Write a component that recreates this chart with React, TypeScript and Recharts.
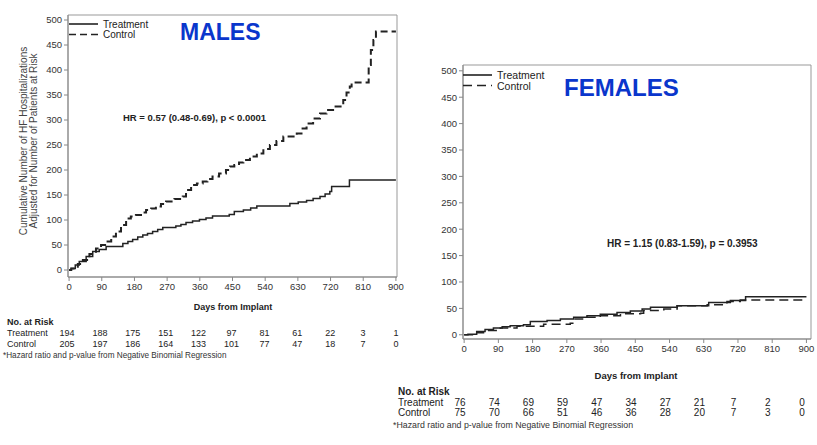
import React from 'react';
import { LineChart, Line, XAxis, YAxis, ReferenceArea } from 'recharts';

const FONT = '"Liberation Sans", Arial, Helvetica, sans-serif';
const INK = '#222';
const BLUE = '#0a36cc';

const dayTicks = [0, 90, 180, 270, 360, 450, 540, 630, 720, 810, 900];
const valTicks = [0, 50, 100, 150, 200, 250, 300, 350, 400, 450, 500];

// males
const maleTrtDays = [0, 6, 17, 28, 47, 65, 83, 102, 138, 148, 162, 175, 189, 203, 216, 230, 244, 258, 294, 308, 322, 340, 359, 377, 395, 441, 455, 480, 500, 517, 599, 608, 631, 654, 672, 691, 705, 718, 723, 771, 772, 900];
const maleTrtVals = [0, 3, 10, 17, 27, 37, 41, 47, 47, 53, 57, 61, 66, 70, 73, 77, 81, 85, 88, 91, 95, 98, 101, 104, 108, 111, 117, 120, 124, 128, 128, 133, 136, 139, 143, 147, 152, 157, 167, 167, 180, 180];
const maleCtlDays = [0, 6, 24, 38, 56, 74, 88, 102, 116, 129, 143, 157, 170, 184, 198, 212, 226, 239, 253, 267, 290, 313, 322, 336, 352, 368, 381, 395, 413, 432, 443, 455, 468, 480, 498, 517, 535, 553, 571, 590, 627, 640, 654, 672, 691, 709, 727, 755, 764, 773, 778, 819, 825, 831, 838, 845, 900];
const maleCtlVals = [0, 3, 12, 20, 32, 43, 50, 57, 67, 77, 90, 103, 107, 110, 115, 120, 123, 127, 132, 137, 142, 147, 160, 170, 173, 177, 182, 187, 193, 200, 207, 210, 215, 220, 227, 233, 242, 250, 258, 267, 273, 283, 293, 303, 313, 320, 327, 340, 355, 367, 375, 375, 410, 440, 460, 477, 477];

// females
const femTrtDays = [0, 10, 33, 55, 77, 100, 121, 156, 174, 218, 253, 288, 323, 358, 402, 437, 468, 490, 560, 621, 643, 700, 740, 900];
const femTrtVals = [0, 1, 6, 10, 13, 15, 17, 19, 25, 27, 30, 33, 36, 39, 42, 45, 49, 52, 55, 55, 61, 65, 72, 72];
const femCtlDays = [0, 25, 51, 95, 139, 209, 279, 292, 323, 358, 411, 464, 472, 525, 560, 612, 639, 691, 726, 893];
const femCtlVals = [0, 4, 8, 13, 16, 20, 22, 30, 33, 36, 40, 41, 46, 49, 55, 55, 57, 63, 66, 66];

// numbers at risk
const maleRiskTrt = [194, 188, 175, 151, 122, 97, 81, 61, 22, 3, 1];
const maleRiskCtl = [205, 197, 186, 164, 133, 101, 77, 47, 18, 7, 0];
const femRiskTrt = [76, 74, 69, 59, 47, 34, 27, 21, 7, 2, 0];
const femRiskCtl = [75, 70, 66, 51, 46, 36, 28, 20, 7, 3, 0];

const toPts = (days: number[], vals: number[]) => days.map((d, i) => ({ day: d, v: vals[i] }));

type PanelProps = {
  left: number; top: number; width: number; height: number;
  margin: { top: number; right: number; bottom: number; left: number };
  xDomain: [number, number]; yDomain: [number, number];
  trt: { day: number; v: number }[]; ctl: { day: number; v: number }[];
  dash: string; ctlWidth: number;
};

function Panel(p: PanelProps) {
  const tick = { fontSize: 9.5, fill: '#333', fontFamily: FONT };
  return (
    <div style={{ position: 'absolute', left: p.left, top: p.top }}>
      <LineChart width={p.width} height={p.height} margin={p.margin}>
        <XAxis dataKey="day" type="number" domain={p.xDomain} ticks={dayTicks} allowDataOverflow
          tick={tick} tickSize={4} height={20} stroke="#888" interval={0} />
        <YAxis type="number" domain={p.yDomain} ticks={valTicks} allowDataOverflow
          tick={tick} tickSize={4} width={30} stroke="#888" interval={0} />
        <ReferenceArea x1={p.xDomain[0]} x2={p.xDomain[1]} y1={p.yDomain[0]} y2={p.yDomain[1]}
          fill="none" stroke="#999" strokeWidth={1} ifOverflow="visible" />
        <Line data={p.trt} dataKey="v" type="stepAfter" stroke={INK} strokeWidth={1.5} dot={false} isAnimationActive={false} />
        <Line data={p.ctl} dataKey="v" type="stepAfter" stroke={INK} strokeWidth={p.ctlWidth} strokeDasharray={p.dash} dot={false} isAnimationActive={false} />
      </LineChart>
    </div>
  );
}

function RiskTable({ x0, step, labelX, y, trt, ctl, fs }: { x0: number; step: number; labelX: number; y: number; trt: number[]; ctl: number[]; fs: number }) {
  return (
    <g fontFamily={FONT} fill={INK} fontSize={fs}>
      <text x={labelX} y={y} fontWeight="bold" dominantBaseline="central">No. at Risk</text>
      <text x={labelX} y={y + 11} dominantBaseline="central">Treatment</text>
      <text x={labelX} y={y + 21.5} dominantBaseline="central">Control</text>
      {trt.map((n, i) => (
        <text key={'t' + i} x={x0 + i * step} y={y + 11} textAnchor="middle" dominantBaseline="central">{n}</text>
      ))}
      {ctl.map((n, i) => (
        <text key={'c' + i} x={x0 + i * step} y={y + 21.5} textAnchor="middle" dominantBaseline="central">{n}</text>
      ))}
    </g>
  );
}

function LegendBox({ x, y, fs, dash }: { x: number; y: number; fs: number; dash: string }) {
  return (
    <g fontFamily={FONT} fill={INK} fontSize={fs}>
      <line x1={x} x2={x + 29} y1={y} y2={y} stroke={INK} strokeWidth={1.6} />
      <line x1={x} x2={x + 29} y1={y + 10.5} y2={y + 10.5} stroke={INK} strokeWidth={1.6} strokeDasharray={dash} />
      <text x={x + 34} y={y} dominantBaseline="central">Treatment</text>
      <text x={x + 34} y={y + 10.5} dominantBaseline="central">Control</text>
    </g>
  );
}

export default function App() {
  return (
    <div style={{ position: 'absolute', left: 0, top: 0, width: 817, height: 445, background: '#fff', overflow: 'hidden' }}>
      <Panel left={0} top={0} width={410} height={300}
        margin={{ top: 15, right: 13, bottom: 3, left: 38 }}
        xDomain={[-3, 903]} yDomain={[-14, 510]}
        trt={toPts(maleTrtDays, maleTrtVals)} ctl={toPts(maleCtlDays, maleCtlVals)}
        dash="7 4" ctlWidth={2} />
      <Panel left={410} top={50} width={407} height={310}
        margin={{ top: 15, right: 6, bottom: 1, left: 23 }}
        xDomain={[-3, 912]} yDomain={[-8, 511]}
        trt={toPts(femTrtDays, femTrtVals)} ctl={toPts(femCtlDays, femCtlVals)}
        dash="9 5" ctlWidth={1.5} />
      <svg width={817} height={445} style={{ position: 'absolute', left: 0, top: 0, pointerEvents: 'none' }}>
        <LegendBox x={69} y={24} fs={10} dash="7 4" />
        <LegendBox x={463} y={75} fs={10.5} dash="9 5" />
        <text x={180} y={32} fontFamily={FONT} fontWeight="bold" fontSize={23} fill={BLUE} dominantBaseline="central">MALES</text>
        <text x={564} y={87} fontFamily={FONT} fontWeight="bold" fontSize={24} fill={BLUE} dominantBaseline="central">FEMALES</text>
        <text x={123} y={117} fontFamily={FONT} fontWeight="bold" fontSize={9.5} fill={INK} dominantBaseline="central">HR = 0.57 (0.48-0.69), p &lt; 0.0001</text>
        <text x={607} y={243} fontFamily={FONT} fontWeight="bold" fontSize={10} fill={INK} dominantBaseline="central">HR = 1.15 (0.83-1.59), p = 0.3953</text>
        <g transform="translate(23,141) rotate(-90)" fontFamily={FONT} fontSize={10} fill="#444">
          <text x={0} y={0} textAnchor="middle" dominantBaseline="central">Cumulative Number of HF Hospitalizations</text>
          <text x={0} y={10} textAnchor="middle" dominantBaseline="central">Adjusted for Number of Patients at Risk</text>
        </g>
        <text x={233} y={307} fontFamily={FONT} fontWeight="bold" fontSize={9} fill={INK} textAnchor="middle" dominantBaseline="central">Days from Implant</text>
        <text x={636} y={375} fontFamily={FONT} fontWeight="bold" fontSize={9.5} fill={INK} textAnchor="middle" dominantBaseline="central">Days from Implant</text>
        <RiskTable x0={67} step={32.9} labelX={7} y={322} trt={maleRiskTrt} ctl={maleRiskCtl} fs={9} />
        <RiskTable x0={460} step={34.2} labelX={398} y={391} trt={femRiskTrt} ctl={femRiskCtl} fs={10} />
        <text x={3} y={355} fontFamily={FONT} fontSize={8.2} fill="#333" dominantBaseline="central">*Hazard ratio and p-value from Negative Binomial Regression</text>
        <text x={393} y={425} fontFamily={FONT} fontSize={8.8} fill="#333" dominantBaseline="central">*Hazard ratio and p-value from Negative Binomial Regression</text>
      </svg>
    </div>
  );
}
